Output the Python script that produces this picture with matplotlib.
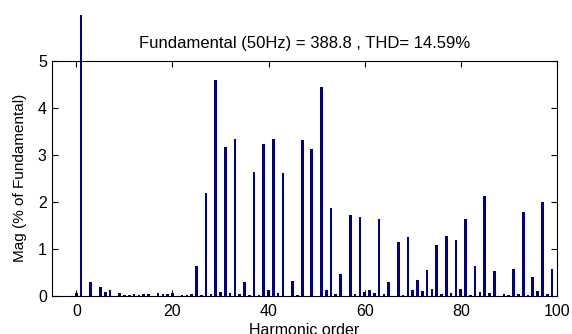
import numpy as np
import matplotlib.pyplot as plt
from matplotlib.transforms import Bbox

plt.rcParams['font.family'] = ['Liberation Sans', 'DejaVu Sans']

# harmonic magnitudes, % of fundamental (order 0..99)
orders = np.arange(100)
mag = [0.07, 100.0, 0.0, 0.29, 0.0, 0.18, 0.08, 0.13, 0.0, 0.07,
       0.02, 0.02, 0.04, 0.02, 0.04, 0.05, 0.0, 0.07, 0.04, 0.04,
       0.06, 0.0, 0.02, 0.03, 0.05, 0.63, 0.03, 2.19, 0.05, 4.60,
       0.09, 3.17, 0.07, 3.34, 0.05, 0.29, 0.03, 2.63, 0.03, 3.22,
       0.12, 3.34, 0.06, 2.61, 0.0, 0.32, 0.03, 3.32, 0.0, 3.12,
       0.0, 4.45, 0.12, 1.87, 0.04, 0.47, 0.0, 1.72, 0.04, 1.68,
       0.08, 0.13, 0.06, 1.63, 0.04, 0.30, 0.0, 1.15, 0.03, 1.25,
       0.13, 0.33, 0.10, 0.55, 0.15, 1.08, 0.04, 1.28, 0.06, 1.18,
       0.15, 1.63, 0.03, 0.64, 0.09, 2.12, 0.06, 0.52, 0.0, 0.04,
       0.03, 0.57, 0.05, 1.79, 0.03, 0.40, 0.10, 1.99, 0.05, 0.57]

title = 'Fundamental (50Hz) = 388.8 , THD= 14.59%'
xticks = [0, 20, 40, 60, 80, 100]
yticks = [0, 1, 2, 3, 4, 5]

fig = plt.figure(figsize=(5.72, 3.34), dpi=100)
ax = fig.add_axes([0.0915, 0.114, 0.882, 0.704])

bars = ax.bar(orders, mag, width=0.55, color='#000088', linewidth=0)

# fundamental bar runs past the axes top, as in the original
fig.canvas.draw()
clip = Bbox.from_extents(0, 0, 572, 334 - 15)
bars[1].set_clip_on(True)
bars[1].set_clip_box(clip)

ax.set_xlim(-5, 100)
ax.set_ylim(0, 5)
ax.set_xticks(xticks)
ax.set_yticks(yticks)
ax.tick_params(direction='in', top=True, right=True, length=4, width=0.8,
               labelsize=11.5)
ax.tick_params(axis='x', pad=6)
ax.tick_params(axis='y', pad=4)
for s in ax.spines.values():
    s.set_linewidth(0.8)

ax.set_title(title, fontsize=12, pad=9)
ax.set_xlabel('Harmonic order', fontsize=11.5, labelpad=3)
ax.set_ylabel('Mag (% of Fundamental)', fontsize=11, labelpad=8)

fig.savefig('out.png', dpi=100)
